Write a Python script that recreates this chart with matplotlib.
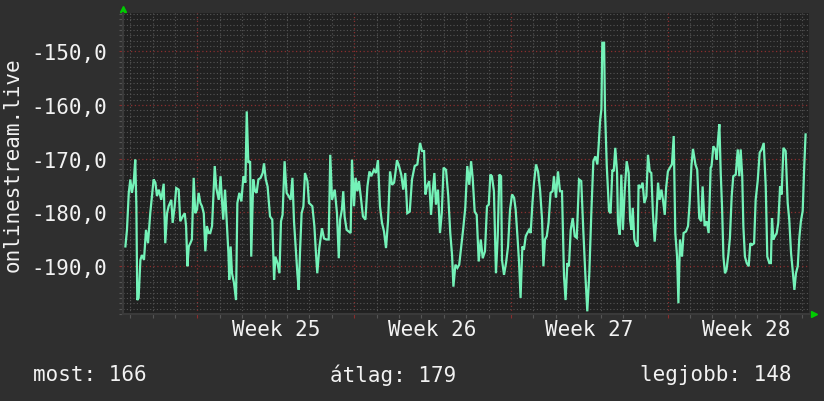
import matplotlib
matplotlib.use("Agg")
import matplotlib.pyplot as plt
import matplotlib.transforms as mtransforms
from matplotlib.ticker import MultipleLocator, FuncFormatter
import numpy as np

# ---------------- data ----------------
# time in days since Monday 00:00 of week 25
t_days = [
    -3.22, -3.15, -3.07, -3.00, -2.93, -2.85, -2.78, -2.73, -2.69, -2.63, -2.55, -2.48, -2.39, -2.30, -2.21, -2.11,
    -1.96, -1.88, -1.81, -1.73, -1.62, -1.51, -1.44, -1.36, -1.29, -1.17, -1.11, -1.02, -0.95, -0.84, -0.77, -0.66,
    -0.57, -0.51, -0.45, -0.39, -0.32, -0.25, -0.17, -0.10, -0.02, 0.05, 0.13, 0.20, 0.28, 0.35, 0.42, 0.50, 0.57,
    0.65, 0.77, 0.84, 0.95, 1.03,
    1.08, 1.15, 1.23, 1.30, 1.38, 1.42, 1.48, 1.54, 1.63, 1.72, 1.78, 1.87, 1.96, 2.05, 2.14, 2.20, 2.27, 2.35, 2.40,
    2.49, 2.57, 2.64, 2.72, 2.82, 2.91, 2.97, 3.05, 3.13, 3.24, 3.34, 3.42, 3.48, 3.57, 3.66, 3.73, 3.80, 3.89, 3.98,
    4.07, 4.16, 4.24, 4.31, 4.40, 4.46, 4.52, 4.58, 4.65, 4.73, 4.80, 4.91, 4.98, 5.06, 5.13, 5.22, 5.29, 5.35, 5.44,
    5.56, 5.65, 5.75, 5.86, 5.93, 6.01, 6.13, 6.23, 6.31, 6.37, 6.45, 6.51, 6.57, 6.66, 6.75, 6.84, 6.90, 6.99, 7.06,
    7.14, 7.21, 7.29, 7.39, 7.50, 7.59, 7.68, 7.76, 7.88, 7.97, 8.06, 8.15, 8.24, 8.33, 8.42, 8.51, 8.60, 8.69, 8.78,
    8.84, 8.91, 9.00, 9.10, 9.19, 9.28, 9.37, 9.48, 9.58, 9.70, 9.82,
    9.94, 10.03, 10.12, 10.18, 10.25, 10.35, 10.43, 10.50, 10.58, 10.65, 10.74, 10.83, 10.91, 10.99, 11.10, 11.20,
    11.29, 11.37, 11.43, 11.52, 11.61, 11.69, 11.78, 11.87, 11.96, 12.05, 12.14, 12.22, 12.29, 12.38, 12.47, 12.56,
    12.65, 12.74, 12.84, 12.93, 13.01, 13.08, 13.15, 13.24, 13.33, 13.41, 13.48, 13.56, 13.60, 13.69, 13.78, 13.87,
    13.96, 14.05, 14.14,
    14.21, 14.29, 14.36, 14.43, 14.51, 14.58, 14.66, 14.73, 14.81, 14.88, 14.96, 15.03, 15.12, 15.21, 15.30, 15.39,
    15.45, 15.52, 15.60, 15.68, 15.77, 15.86, 15.92, 16.01, 16.10, 16.19, 16.28, 16.37, 16.44, 16.52, 16.59, 16.67,
    16.76, 16.85, 16.94, 17.04, 17.14, 17.23, 17.32, 17.41, 17.50, 17.59, 17.68, 17.77, 17.86, 17.92, 17.98, 18.04,
    18.08, 18.16, 18.20, 18.28, 18.38, 18.45, 18.53,
    18.59, 18.66, 18.74, 18.78, 18.86, 18.93, 19.00, 19.08, 19.17, 19.26, 19.32, 19.38, 19.44, 19.51, 19.59, 19.66,
    19.70, 19.79, 19.88, 19.96, 20.05, 20.12, 20.20, 20.27, 20.34, 20.42, 20.49, 20.57, 20.64, 20.72, 20.79, 20.87,
    20.93, 21.01, 21.10, 21.19, 21.27, 21.34, 21.42, 21.48, 21.55, 21.64, 21.71, 21.82, 21.91, 21.98, 22.06, 22.13,
    22.24, 22.32, 22.41, 22.50, 22.56, 22.65, 22.74, 22.83, 22.92,
    22.96, 23.04, 23.13, 23.19, 23.25, 23.31, 23.37, 23.43, 23.49, 23.56, 23.63, 23.71, 23.78, 23.86, 23.93, 24.04,
    24.13, 24.20, 24.26, 24.33, 24.38, 24.45, 24.53, 24.62, 24.69, 24.77, 24.86, 24.93, 25.02, 25.11, 25.20, 25.29,
    25.38, 25.45, 25.54, 25.61, 25.66, 25.72, 25.79, 25.87, 25.94, 26.02, 26.09, 26.17, 26.27, 26.36, 26.43, 26.51,
    26.58, 26.66, 26.73, 26.81, 26.88, 26.95, 27.03, 27.10, 27.16,
]

signal = [
    -186.4, -183.3, -176.4, -173.9, -176.4, -174.5, -170.2, -178.9, -196.4, -196.0, -188.9, -188.0, -188.9, -183.3,
    -185.8, -180.2, -173.9, -174.5, -177.0, -175.8, -177.7, -174.7, -185.8, -180.2, -178.9, -177.7, -182.0, -178.9,
    -175.5, -175.8, -181.7, -180.8, -180.2, -182.6, -190.1, -186.4, -185.8, -185.1, -173.6, -180.2, -179.5, -176.4,
    -178.3, -178.9, -180.2, -187.3, -182.6, -183.9, -183.9, -182.6, -171.4, -175.5, -177.7, -173.3,
    -177.0, -181.4, -175.8, -181.4, -187.6, -192.6, -186.4, -191.4, -193.2, -196.4, -178.3, -176.4, -178.0, -173.3,
    -174.5, -161.2, -170.8, -170.5, -188.3, -173.9, -176.1, -176.4, -173.9, -173.6, -172.7, -170.9, -173.9, -175.2,
    -180.8, -181.4, -192.6, -188.3, -189.5, -191.4, -181.7, -180.5, -170.5, -176.4, -177.0, -177.7, -173.6, -181.7,
    -187.6, -191.4, -194.5, -187.3, -180.2, -178.9, -172.7, -174.2, -178.3, -178.6, -178.9, -182.6, -187.6, -191.4,
    -186.7,
    -183.0, -184.9, -185.1, -185.1, -169.3, -177.7, -175.8, -180.2, -188.6, -181.4, -179.5, -176.1, -180.8, -183.3,
    -183.6, -183.9, -170.2, -178.9, -173.6, -176.1, -174.2, -177.0, -180.8, -181.4, -175.2, -172.4, -173.3, -172.1,
    -172.7, -170.3, -178.9, -182.0, -183.6, -186.7, -181.7, -172.4, -174.9, -174.5, -172.7, -170.3, -171.4, -173.0,
    -175.8, -172.7, -180.2, -179.9, -173.9, -171.4, -171.1,
    -167.1, -168.6, -168.6, -176.7, -175.2, -174.2, -180.5, -176.4, -172.7, -178.6, -175.8, -183.9, -180.2, -171.7,
    -172.1, -177.0, -183.9, -188.0, -193.9, -189.8, -190.4, -189.8, -186.4, -183.0, -179.2, -171.4, -174.9, -170.5,
    -173.6, -179.9, -180.5, -189.2, -185.1, -188.6, -187.3, -178.9, -178.6, -173.0, -173.3, -176.1, -191.4, -184.5,
    -173.0, -173.3, -188.9, -191.7, -189.5, -186.4, -179.5, -176.7, -177.3,
    -179.5, -184.5, -189.2, -196.0, -186.4, -187.0, -184.5, -183.9, -183.3, -183.9, -178.3, -174.5, -171.1, -172.4,
    -175.8, -181.4, -190.1, -185.1, -184.5, -182.0, -176.4, -176.1, -173.3, -177.3, -172.4, -176.1, -176.1, -192.0,
    -196.4, -189.5, -190.1, -183.3, -181.1, -184.5, -184.8, -173.9, -174.2, -183.3, -191.4, -198.5, -191.4, -180.2,
    -170.5, -169.6, -171.1, -167.4, -163.0, -160.8, -148.4, -148.4, -160.8, -171.4, -179.8, -180.2, -172.1,
    -172.4, -168.0, -172.7, -182.0, -184.2, -173.0, -183.3, -176.1, -170.5, -172.7, -181.4, -183.3, -179.2, -185.1,
    -186.1, -186.4, -174.9, -175.5, -174.5, -178.3, -177.0, -169.3, -172.4, -172.7, -180.2, -185.5, -181.4, -174.5,
    -177.7, -175.8, -177.7, -180.5, -175.5, -172.4, -171.7, -171.1, -165.8, -183.9, -188.3, -197.0, -185.1, -188.3,
    -183.9, -183.6, -182.6, -178.3, -171.4, -168.2, -171.1, -172.1, -181.1, -181.7, -175.2, -182.6, -181.7, -183.9,
    -171.7,
    -171.4, -167.7, -168.3, -170.2, -166.4, -163.6, -172.7, -179.2, -188.3, -191.4, -190.7, -187.9, -184.8, -177.0,
    -173.3, -173.0, -168.3, -173.3, -168.3, -173.3, -182.6, -188.3, -189.5, -190.1, -185.8, -186.1, -185.8, -177.7,
    -174.2, -168.9, -168.3, -167.1, -175.2, -188.3, -189.5, -189.5, -181.1, -185.1, -184.5, -183.9, -182.0, -175.2,
    -176.7, -168.0, -168.6, -178.3, -181.4, -187.6, -190.7, -194.5, -191.4, -190.1, -184.8, -181.7, -179.8, -171.4,
    -165.5,
]

week_starts = [0, 7, 14, 21]
week_labels = ["Week 25", "Week 26", "Week 27", "Week 28"]
y_ticks = [-190, -180, -170, -160, -150]
y_label = "onlinestream.live"
summary_labels = ["most: 166", "átlag: 179", "legjobb: 148"]

# ---------------- style ----------------
CANVAS = "#2f2f2f"
PLOTBG = "#212121"
LINE = "#74f2b8"
MINOR = "#555555"
MAJOR = "#8a2e2e"
TEXT = "#f2f2f2"
ARROW = "#00cc00"
FONT = "DejaVu Sans Mono"
FS = 15

n = min(len(t_days), len(signal))
t = np.array(t_days[:n])
v = np.array(signal[:n])

fig = plt.figure(figsize=(8.24, 4.02), dpi=100, facecolor=CANVAS)
ax = fig.add_axes([123.5 / 824, 1 - 315 / 402, 685 / 824, 301 / 402])
ax.set_facecolor(PLOTBG)

ax.set_xlim(-3.305, 27.29)
ax.set_ylim(-199.0, -142.85)

# grid
ax.xaxis.set_minor_locator(MultipleLocator(1))
ax.yaxis.set_minor_locator(MultipleLocator(1))
ax.set_xticks(week_starts)
ax.set_yticks(y_ticks)
ax.grid(which="minor", color=MINOR, linestyle=(0, (1, 2)), linewidth=0.8, zorder=0)
ax.grid(which="major", color=MAJOR, linestyle=(0, (1, 2)), linewidth=0.9, zorder=0)
ax.set_axisbelow(True)

ax.xaxis.set_major_formatter(FuncFormatter(lambda x, p: ""))
ax.yaxis.set_major_formatter(FuncFormatter(lambda y, p: f"{y:.1f}".replace(".", ",")))
ax.tick_params(axis="both", which="minor", length=3, color=MINOR, width=0.8)
ax.tick_params(axis="both", which="major", length=3, color=MAJOR, width=0.8)
ax.tick_params(axis="y", which="major", labelsize=FS, labelcolor=TEXT, pad=9)
for lab in ax.get_yticklabels():
    lab.set_fontfamily(FONT)

for s in ["top", "right"]:
    ax.spines[s].set_visible(False)
for s in ["left", "bottom"]:
    ax.spines[s].set_color("#3a3a3a")
    ax.spines[s].set_linewidth(1.5)

# data line
ax.plot(t, v, color=LINE, linewidth=1.6, zorder=3, solid_joinstyle="miter")

# week labels centered in each week
trans = mtransforms.blended_transform_factory(ax.transData, ax.transAxes)
for ws, lab in zip(week_starts, week_labels):
    ax.text(ws + 3.5, -0.05, lab, transform=trans, ha="center", va="center",
            fontsize=FS, color=TEXT, fontfamily=FONT)

# axis arrows
ax.plot([0], [1.013], marker="^", markersize=5, color=ARROW, transform=ax.transAxes,
        clip_on=False, linestyle="none")
ax.plot([1.008], [0], marker=">", markersize=5, color=ARROW, transform=ax.transAxes,
        clip_on=False, linestyle="none")

# y label
fig.text(13 / 824, 1 - 164.5 / 402, y_label, rotation=90, ha="center", va="center",
         fontsize=FS, color=TEXT, fontfamily=FONT)

# summary line
fig.text(33 / 824, 1 - 375 / 402, summary_labels[0], ha="left", va="center",
         fontsize=FS, color=TEXT, fontfamily=FONT)
fig.text(393 / 824, 1 - 375 / 402, summary_labels[1], ha="center", va="center",
         fontsize=FS, color=TEXT, fontfamily=FONT)
fig.text(791 / 824, 1 - 375 / 402, summary_labels[2], ha="right", va="center",
         fontsize=FS, color=TEXT, fontfamily=FONT)

fig.savefig("out.png", dpi=100, facecolor=CANVAS)
